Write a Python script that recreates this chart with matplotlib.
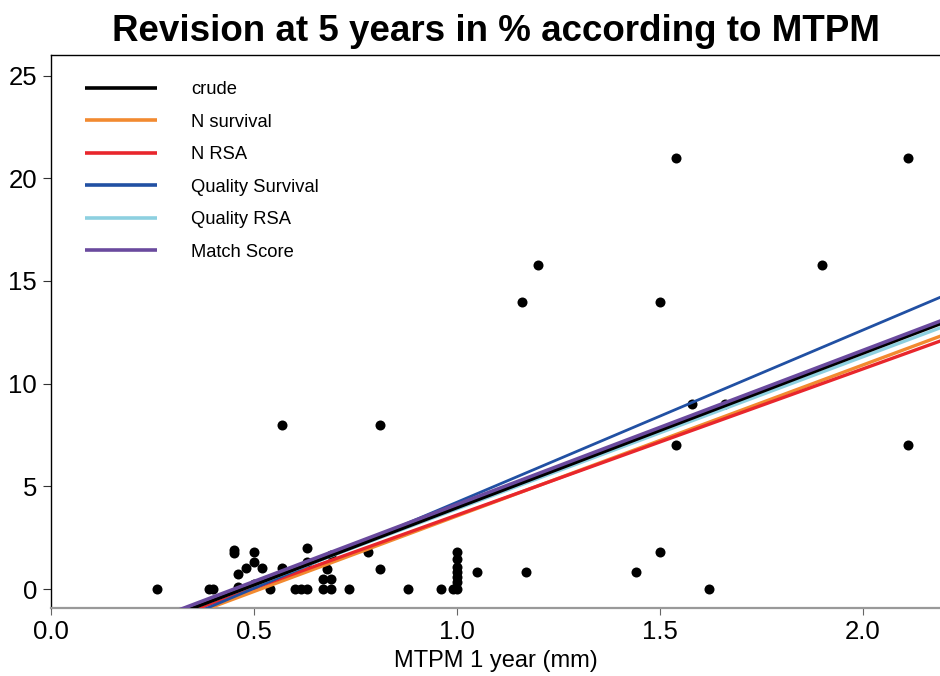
import numpy as np
import matplotlib
matplotlib.use("Agg")
import matplotlib.pyplot as plt

plt.rcParams["font.family"] = ["Liberation Sans", "DejaVu Sans"]

# -----------------------------
# Data
# -----------------------------

mtpm = [
    0.26, 0.39, 0.40, 0.45, 0.45, 0.46, 0.46, 0.48, 0.50, 0.50,
    0.50, 0.52, 0.54, 0.57, 0.57, 0.60, 0.615, 0.63, 0.63, 0.63,
    0.67, 0.69, 0.67, 0.69, 0.68, 0.69, 0.735, 0.78, 0.81, 0.81,
    0.88, 0.96, 0.99, 1.00, 1.00, 1.00, 1.00, 1.00, 1.00, 1.00,
    1.05, 1.16, 1.17, 1.20, 1.44, 1.50, 1.50, 1.54, 1.54, 1.58,
    1.62, 1.66, 1.90, 2.11, 2.11,
]
revision = [
    0.0, 0.0, 0.0, 1.9, 1.75, 0.73, 0.1, 1.04, 1.8, 1.3,
    0.25, 1.04, 0.0, 1.04, 8.0, 0.0, 0.0, 0.0, 2.0, 1.33,
    0.0, 0.0, 0.5, 0.5, 1.0, 1.65, 0.0, 1.8, 1.0, 8.0,
    0.0, 0.0, 0.0, 0.0, 0.35, 0.6, 0.85, 1.1, 1.45, 1.8,
    0.83, 14.0, 0.83, 15.8, 0.83, 14.0, 1.8, 21.0, 7.0, 9.0,
    0.0, 9.0, 15.8, 21.0, 7.0,
]

models = ["crude", "N survival", "N RSA", "Quality Survival", "Quality RSA", "Match Score"]
intercepts = [-3.55, -3.79, -3.51, -4.15, -3.50, -3.38]
slopes = [7.52, 7.35, 7.115, 8.38, 7.405, 7.50]
colors = ["#000000", "#f28a30", "#e8262c", "#2150a3", "#8dd0e0", "#6a4a9e"]
widths = [2.6, 2.4, 2.4, 2.0, 2.4, 2.6]
zorders = [3.5, 3.0, 3.1, 3.2, 3.3, 3.6]

# -----------------------------
# Figure
# -----------------------------

fig = plt.figure(figsize=(9.4, 6.76), dpi=100)
ax = fig.add_axes([0.0543, 0.1006, 0.9457, 0.818])

ax.scatter(mtpm, revision, s=52, color="black", zorder=2, linewidths=0)

xs = np.linspace(0, 2.4, 200)
for name, a, b, c, w, z in zip(models, intercepts, slopes, colors, widths, zorders):
    ax.plot(xs, a + b * xs, color=c, lw=w, label=name, zorder=z, solid_capstyle="butt")

ax.set_xlim(0, 2.19)
ax.set_ylim(-0.92, 26)
ax.set_xticks([0.0, 0.5, 1.0, 1.5, 2.0])
ax.set_xticklabels(["0.0", "0.5", "1.0", "1.5", "2.0"])
ax.set_yticks([0, 5, 10, 15, 20, 25])

ax.spines["right"].set_visible(False)
ax.spines["left"].set_linewidth(1.0)
ax.spines["top"].set_linewidth(1.0)
ax.spines["bottom"].set_color("#999999")
ax.spines["bottom"].set_linewidth(1.6)

ax.tick_params(axis="both", direction="out", labelsize=18.5, width=0.8)
ax.tick_params(axis="y", length=6, color="#333333", pad=4)
ax.tick_params(axis="x", length=5, color="#666666", pad=4)

ax.set_xlabel("MTPM 1 year (mm)", fontsize=17, labelpad=4)
ax.set_title("Revision at 5 years in % according to MTPM", fontsize=26.5,
             fontweight="bold", pad=10)

leg = ax.legend(loc="upper left", bbox_to_anchor=(0.0, 1.0145), frameon=False,
                fontsize=13.2, handlelength=3.95, handletextpad=1.86,
                labelspacing=0.85, borderaxespad=1.45)
for line in leg.get_lines():
    line.set_linewidth(2.6)

fig.savefig("out.png", dpi=100)
